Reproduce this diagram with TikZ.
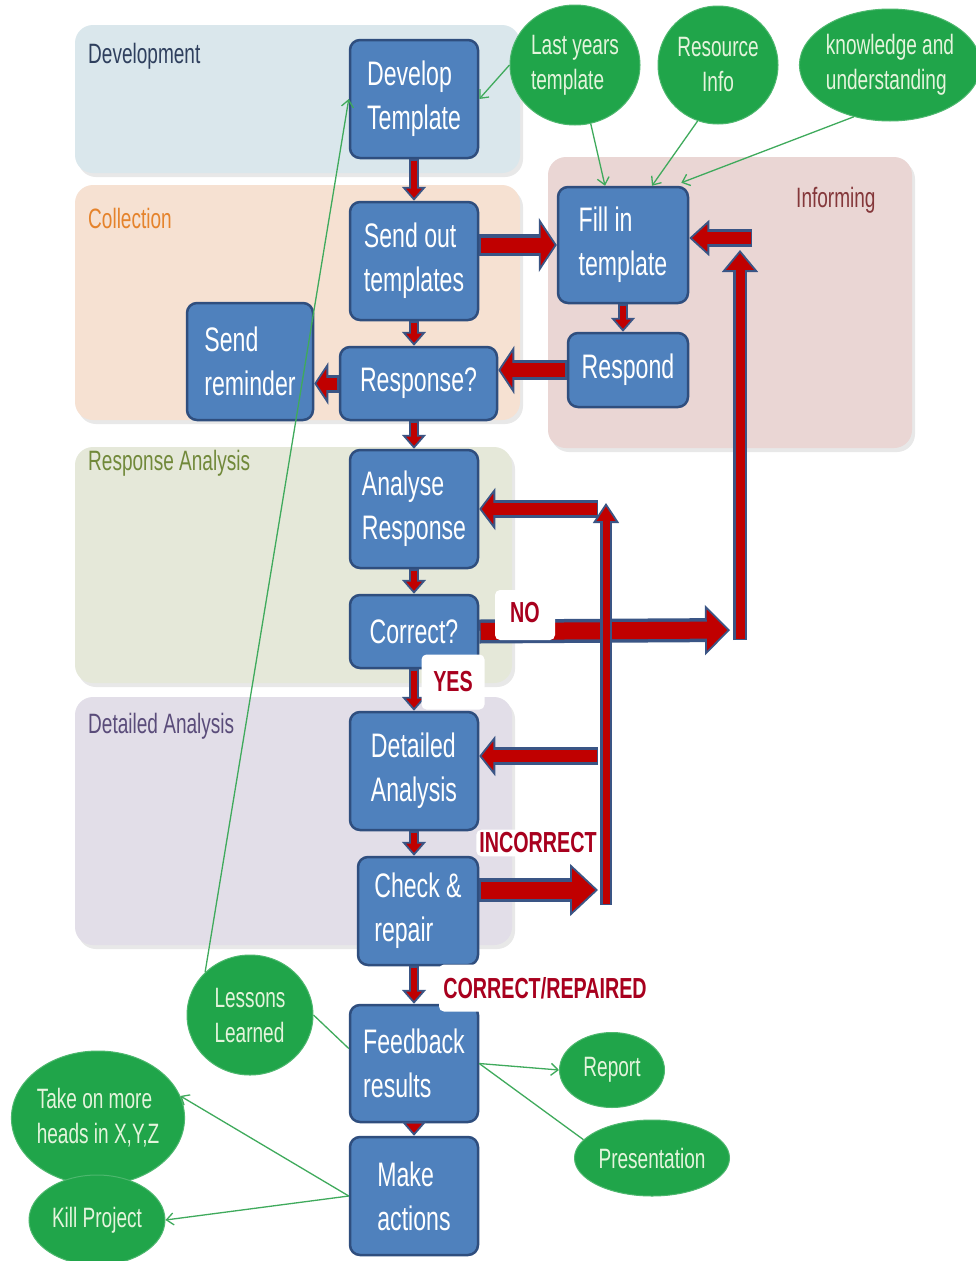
\documentclass[tikz,border=0pt]{standalone}
\usepackage{fontspec}
\setmainfont{Liberation Sans}[FakeStretch=0.68]
\usetikzlibrary{arrows.meta,shapes.geometric,shadows,calc}

\definecolor{boxblue}{HTML}{4F81BD}
\definecolor{boxedge}{HTML}{2F4E7E}
\definecolor{arrowred}{HTML}{C00000}
\definecolor{arrowedge}{HTML}{3A5585}
\definecolor{leaf}{HTML}{20A54A}
\definecolor{leaftext}{HTML}{E4F4DC}
\definecolor{gline}{HTML}{3FAA5C}
\definecolor{labelred}{HTML}{A8001E}
\definecolor{laneDev}{HTML}{DAE7EC}
\definecolor{laneCol}{HTML}{F6E1D2}
\definecolor{laneInf}{HTML}{EAD6D4}
\definecolor{laneRes}{HTML}{E5E8D9}
\definecolor{laneDet}{HTML}{E2DEE8}
\definecolor{titleDev}{HTML}{2F405E}
\definecolor{titleCol}{HTML}{E5832C}
\definecolor{titleInf}{HTML}{84373A}
\definecolor{titleRes}{HTML}{71893A}
\definecolor{titleDet}{HTML}{5A4C7A}

% red block arrow with a blue-grey rim
\newcommand\flowarrow[6]{%
  \draw[line width=#3, draw=arrowedge,
        -{Triangle[width=#5,length=#6,line width=1.8pt,fill=arrowred]}] #1 -- #2;
  \draw[line width=#4, draw=arrowred, shorten >=#6-3pt, shorten <=1.5pt] #1 -- #2;
}

\tikzset{
  lane/.style={rounded corners=18pt, drop shadow={opacity=0.18, shadow xshift=3pt, shadow yshift=-4pt}},
  lanetitle/.style={anchor=west, inner sep=0pt, font=\fontsize{28}{32}\selectfont},
  stepbox/.style={draw=boxedge, line width=2.5pt, fill=boxblue, rounded corners=10pt,
    text=white, inner sep=0pt, align=left,
    font=\fontsize{34}{44}\selectfont},
  leafnode/.style={ellipse, fill=leaf, draw=leaf!80!white, line width=1pt, text=leaftext,
    inner sep=0pt, align=left, font=\fontsize{28}{35}\selectfont},
  gconn/.style={draw=gline, line width=1.3pt},
  garrow/.style={gconn, -{Straight Barb[length=7pt,width=12pt,line width=1.3pt]}},
  flag/.style={fill=white, rounded corners=5pt, inner sep=0pt, text=labelred,
    font=\bfseries\fontsize{29}{32}\selectfont},
}

\begin{document}
\begin{tikzpicture}[x=1pt,y=-1pt]
\useasboundingbox (0,0) rectangle (975,1261);
\fill[white] (0,0) rectangle (975,1261);

% swim lanes
\fill[laneDev, lane] (75,25) rectangle (520,173);
\fill[laneCol, lane] (75,185) rectangle (520,420);
\fill[laneInf, lane] (548,157) rectangle (912,448);
\fill[laneRes, lane] (75,447) rectangle (512,683);
\fill[laneDet, lane] (75,697) rectangle (512,945);

\node[lanetitle, text=titleDev] (tdev) at (88,56) {Development};
\node[lanetitle, text=titleCol] (tcol) at (88,218) {Collection};
\node[lanetitle, text=titleInf] (tinf) at (796,200) {Informing};
\node[lanetitle, text=titleRes] (tres) at (88,463) {Response Analysis};
\node[lanetitle, text=titleDet] (tdet) at (88,726) {Detailed Analysis};

% process steps
\node[stepbox, minimum width=128pt, minimum height=118pt] (dev) at (414,99) {Develop\\Template};
\node[stepbox, minimum width=128pt, minimum height=118pt] (send) at (414,261) {Send out\\templates};
\node[stepbox, minimum width=126pt, minimum height=117pt] (remind) at (250,361.5) {Send\\reminder};
\node[stepbox, minimum width=157pt, minimum height=73pt] (response) at (418.5,383.5) {Response?};
\node[stepbox, minimum width=130pt, minimum height=116pt] (fill) at (623,245) {Fill in\\template};
\node[stepbox, minimum width=120pt, minimum height=74pt] (respond) at (628,370) {Respond};
\node[stepbox, minimum width=128pt, minimum height=118pt] (analyse) at (414,509) {Analyse\\Response};
\node[stepbox, minimum width=128pt, minimum height=73pt] (correct) at (414,631.5) {Correct?};
\node[stepbox, minimum width=128pt, minimum height=118pt] (detailed) at (414,771) {Detailed\\Analysis};
\node[stepbox, minimum width=120pt, minimum height=108pt] (check) at (418,911) {Check \&\\repair};
\node[stepbox, minimum width=128pt, minimum height=117pt] (feedback) at (414,1063.5) {Feedback\\results};
\node[stepbox, minimum width=128pt, minimum height=118pt] (make) at (414,1196) {Make\\actions};

% inputs and outputs
\node[leafnode, minimum width=130pt, minimum height=120pt] (last) at (575,65) {Last years\\template};
\node[leafnode, minimum width=120pt, minimum height=118pt, align=center] (resource) at (718,65) {Resource\\Info};
\node[leafnode, minimum width=172pt, minimum height=112pt] (know) at (890,65) {knowledge and\\understanding};
\node[leafnode, minimum width=126pt, minimum height=120pt] (lessons) at (250,1015) {Lessons\\Learned};
\node[leafnode, minimum width=173pt, minimum height=134pt] (take) at (98,1118) {Take on more\\heads in X,Y,Z};
\node[leafnode, minimum width=136pt, minimum height=90pt] (kill) at (97,1220) {Kill Project};
\node[leafnode, minimum width=105pt, minimum height=75pt] (report) at (612,1070) {Report};
\node[leafnode, minimum width=155pt, minimum height=76pt] (pres) at (652,1158) {Presentation};

% free ends of the return loops
\coordinate (noend) at (730,630);
\coordinate (upbot) at (740,640);
\coordinate (uptop) at (740,250);
\coordinate (backstart) at (752,238);
\coordinate (chkend) at (598,890);
\coordinate (loopbot) at (606,905);
\coordinate (looptop) at (606,503);
\coordinate (ra) at (598,509);
\coordinate (rd) at (598,756);

% main flow
\flowarrow{(dev.south)}{(send.north)}{10pt}{6pt}{24pt}{14pt}
\flowarrow{(send.south)}{(send.south |- response.north)}{10pt}{6pt}{24pt}{14pt}
\flowarrow{(response.south -| analyse.north)}{(analyse.north)}{10pt}{6pt}{24pt}{14pt}
\flowarrow{(analyse.south)}{(correct.north)}{10pt}{6pt}{24pt}{14pt}
\flowarrow{(correct.south)}{(detailed.north)}{10pt}{6pt}{24pt}{14pt}
\flowarrow{(detailed.south)}{(detailed.south |- check.north)}{10pt}{6pt}{24pt}{14pt}
\flowarrow{(feedback.north |- check.south)}{(feedback.north)}{10pt}{6pt}{24pt}{14pt}
\flowarrow{(feedback.south)}{(make.north)}{10pt}{6pt}{24pt}{14pt}
\flowarrow{(fill.south)}{(fill.south |- respond.north)}{10pt}{6pt}{24pt}{14pt}

% side flows
\flowarrow{(send.east |- fill.west)}{(fill.west)}{22pt}{15pt}{54pt}{18pt}
\flowarrow{(respond.west)}{(respond.west -| response.east)}{20pt}{14pt}{48pt}{16pt}
\flowarrow{(response.west)}{(response.west -| remind.east)}{18pt}{12pt}{42pt}{14pt}

% NO loop back to the template
\flowarrow{(correct.east)}{(noend)}{24pt}{17pt}{50pt}{25pt}
\flowarrow{(upbot)}{(uptop)}{14pt}{9pt}{36pt}{22pt}
\flowarrow{(backstart)}{(backstart -| fill.east)}{18pt}{12pt}{36pt}{20pt}

% INCORRECT loop back to the analysis
\flowarrow{(chkend -| check.east)}{(chkend)}{24pt}{17pt}{52pt}{28pt}
\flowarrow{(loopbot)}{(looptop)}{12pt}{7pt}{26pt}{20pt}
\flowarrow{(ra)}{(analyse.east)}{18pt}{12pt}{42pt}{16pt}
\flowarrow{(rd)}{(rd -| detailed.east)}{18pt}{12pt}{40pt}{16pt}

% thin input / output links
\draw[garrow] (last.west) -- (dev.east);
\draw[garrow] (last.-75) -- ($(fill.north)+(-18,0)$);
\draw[garrow] (resource.-110) -- ($(fill.north)+(29,0)$);
\draw[garrow] (know.-125) -- ($(fill.north east)+(-8,-3)$);
\draw[garrow] (lessons.north west) -- (dev.west);
\draw[gconn] ($(feedback.west)+(0,-15)$) -- (lessons.east);
\draw[garrow] (feedback.east) -- (report.west);
\draw[gconn] (feedback.east) -- (pres.165);
\draw[garrow] (make.west) -- (take.15);
\draw[garrow] (make.west) -- (kill.east);

% decision labels
\node[flag, minimum width=60pt, minimum height=50pt] (lno) at (525,615) {\raisebox{6pt}{NO}};
\node[flag, minimum width=63pt, minimum height=55pt] (lyes) at (453,682) {YES};
\node[flag, inner sep=3pt] (lincorrect) at (538,843) {INCORRECT};
\node[flag, minimum width=212pt, minimum height=47pt] (lrepaired) at (545,988) {CORRECT/REPAIRED};
\end{tikzpicture}
\end{document}
